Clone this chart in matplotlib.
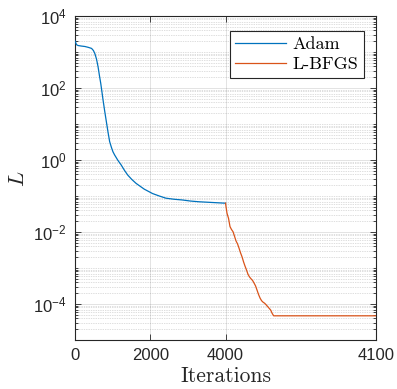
import numpy as np
import matplotlib
matplotlib.use("Agg")
import matplotlib.pyplot as plt
from matplotlib.ticker import LogLocator, FixedLocator, FixedFormatter, NullFormatter

plt.rcParams['font.family'] = ['Liberation Sans', 'DejaVu Sans']
plt.rcParams['mathtext.fontset'] = 'custom'
plt.rcParams['mathtext.rm'] = 'Liberation Sans'
plt.rcParams['mathtext.it'] = 'Liberation Sans:italic'
plt.rcParams['mathtext.bf'] = 'Liberation Sans:bold'

# ---- data ----
adam_iter = [0, 40, 79, 170, 263, 350, 440, 490, 526, 570, 613, 650, 684, 715,
             745, 789, 834, 878, 921, 965, 1008, 1053, 1140, 1229, 1316, 1403,
             1510, 1624, 1840, 2061, 2240, 2413, 2630, 2850, 3070, 3289, 3640, 4000]
adam_loss = [2023, 1600, 1514, 1462, 1422, 1349, 1259, 1096, 912, 646, 389, 219,
             135, 79.4, 46.8, 22.9, 11.5, 5.89, 3.24, 2.29, 1.70, 1.38, 0.977,
             0.724, 0.513, 0.380, 0.288, 0.224, 0.155, 0.117, 0.100, 0.0871,
             0.0813, 0.0776, 0.0724, 0.0692, 0.0661, 0.0631]

lbfgs_iter = [4000, 4001, 4002, 4003, 4004, 4005, 4006, 4007, 4008, 4009, 4010,
              4011, 4012, 4013, 4014, 4015, 4016, 4017, 4018, 4019, 4020, 4021,
              4022, 4023, 4024, 4025, 4026, 4027, 4028, 4029, 4030, 4031, 4032, 4100]
lbfgs_loss = [0.0631, 0.0331, 0.0240, 0.0141, 0.0117, 0.0102, 0.00759, 0.00562,
              0.00468, 0.00355, 0.00263, 0.00204, 0.00148, 0.00112, 8.7e-4, 6.6e-4,
              5.6e-4, 5.0e-4, 4.5e-4, 3.8e-4, 3.16e-4, 2.4e-4, 1.82e-4, 1.45e-4,
              1.23e-4, 1.12e-4, 1.05e-4, 9.5e-5, 8.5e-5, 7.6e-5, 6.8e-5, 5.5e-5,
              4.7e-5, 4.7e-5]

x_ticks = [0, 2000, 4000, 4100]
x_tick_labels = ['0', '2000', '4000', '4100']
y_ticks = [1e-4, 1e-2, 1e0, 1e2, 1e4]
y_tick_labels = [r'$10^{-4}$', r'$10^{-2}$', r'$10^{0}$', r'$10^{2}$', r'$10^{4}$']

# piecewise-linear x scale: 0-4000 and 4000-4100 each take half the axis
def fwd(x):
    x = np.asarray(x, dtype=float)
    return np.where(x <= 4000, x, 4000 + (x - 4000) * 40.0)

def inv(y):
    y = np.asarray(y, dtype=float)
    return np.where(y <= 4000, y, 4000 + (y - 4000) / 40.0)

fig = plt.figure(figsize=(3.97, 3.89), dpi=100)
ax = fig.add_axes([75/397, 1 - 340/389, (376 - 75)/397, (340 - 16)/389])

ax.set_xscale('function', functions=(fwd, inv))
ax.set_yscale('log')

blue = '#0072BD'
orange = '#D95319'
ax.plot(adam_iter, adam_loss, color=blue, lw=0.9, label='Adam', zorder=3)
ax.plot(lbfgs_iter, lbfgs_loss, color=orange, lw=0.9, label='L-BFGS', zorder=3)

ax.set_xlim(0, 4100)
ax.set_ylim(1e-5, 1e4)

ax.xaxis.set_major_locator(FixedLocator(x_ticks))
ax.xaxis.set_major_formatter(FixedFormatter(x_tick_labels))
ax.xaxis.set_minor_locator(FixedLocator([]))
ax.yaxis.set_major_locator(FixedLocator(y_ticks))
ax.yaxis.set_major_formatter(FixedFormatter(y_tick_labels))
ax.yaxis.set_minor_locator(LogLocator(base=10, subs=np.arange(1, 10), numticks=100))
ax.yaxis.set_minor_formatter(NullFormatter())

axc = '#262626'
for s in ax.spines.values():
    s.set_color(axc)
    s.set_linewidth(0.8)
ax.tick_params(which='both', direction='in', top=True, right=True, color=axc,
               labelcolor=axc, labelsize=12, width=0.6)
ax.tick_params(which='major', length=4, pad=6)
ax.tick_params(which='minor', length=2)

ax.grid(True, which='major', color='#262626', alpha=0.15, lw=0.6, ls='-')
ax.yaxis.grid(True, which='minor', color='#262626', alpha=0.3, lw=0.5, ls=(0, (1, 1.5)))
ax.set_axisbelow(True)

ax.set_xlabel('Iterations', fontfamily='cmr10', fontsize=15.5, color='#262626', labelpad=2)
ax.set_ylabel('L', fontfamily='cmmi10', fontsize=16, color='#262626', labelpad=4)

leg = ax.legend(loc='upper right', prop={'family': 'cmr10', 'size': 13},
                frameon=True, fancybox=False, framealpha=1, edgecolor='#262626',
                borderpad=0.3, handlelength=2.8, handletextpad=0.4, labelspacing=0.25,
                bbox_to_anchor=(364/397, 1 - 31/389), bbox_transform=fig.transFigure,
                borderaxespad=0)
leg.get_frame().set_linewidth(0.8)

fig.savefig('out.png', dpi=100)
